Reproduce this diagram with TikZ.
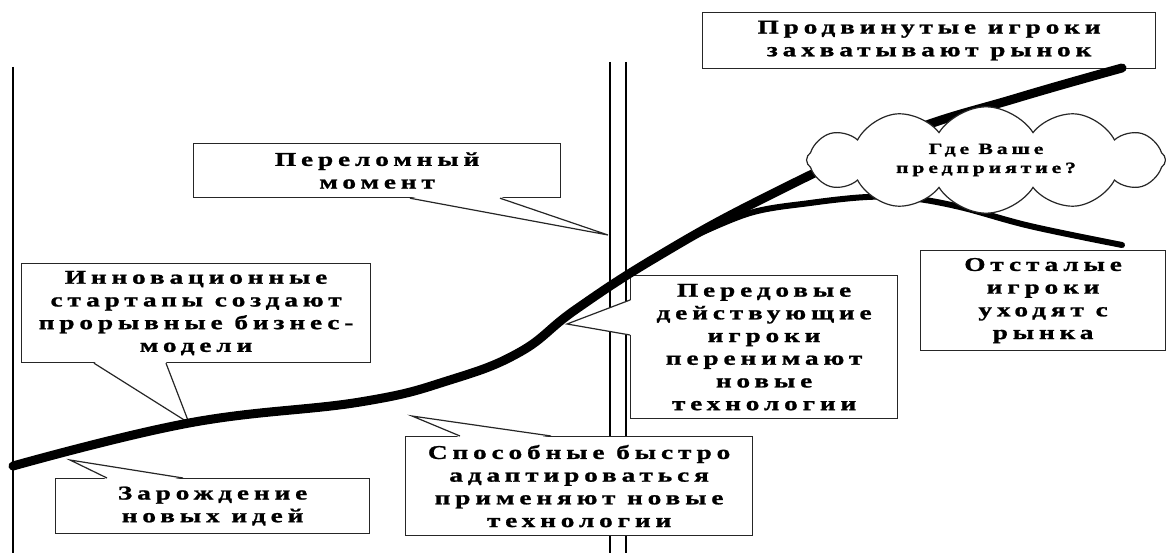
\documentclass[tikz,border=0pt]{standalone}
\usepackage{fontspec}
\newfontfamily\zhirnyj{Liberation Serif Bold}[FakeStretch=1.4, LetterSpace=25, FakeBold=1.2]
\usepackage{tikz}
\usetikzlibrary{shapes.symbols,calc}

\begin{document}
\begin{tikzpicture}[
  x=1pt, y=-1pt,
  ramka/.style={rectangle, draw=black!85, line width=1.2pt, fill=white, anchor=north west, align=center, inner sep=2pt, font=\zhirnyj\fontsize{19.5}{22.7}\selectfont},
  ukaz/.style={draw=black!85, line width=1.2pt},
  linia/.style={line width=1.6pt},
  kriv/.style={line width=9pt, line cap=round},
  kriv2/.style={line width=6pt, line cap=round},
  oblako/.style={cloud, cloud puffs=12, cloud puff arc=115, aspect=3.5, draw=black!85, line width=1.2pt, fill=white, align=center, inner sep=0pt, font=\zhirnyj\fontsize{15.5}{19}\selectfont}
]
  \useasboundingbox (0,0) rectangle (1166,553);

  % vertikalnye linii
  \draw[linia] (13,67) -- (13,553);
  \draw[linia] (610,62) -- (610,553);
  \draw[linia] (626,62) -- (626,553);

  % bloki
  \node[ramka, minimum width=367pt, minimum height=54pt] (perelom) at (193,143) {Переломный\\момент};
  \node[ramka, minimum width=349pt, minimum height=99pt] (innov) at (21,263) {Инновационные\\стартапы создают\\прорывные бизнес-\\модели};
  \node[ramka, minimum width=314pt, minimum height=55pt] (zarozh) at (55,478) {Зарождение\\новых идей};
  \node[ramka, minimum width=347pt, minimum height=99pt] (sposob) at (405,436) {Способные быстро\\адаптироваться\\применяют новые\\технологии};
  \node[ramka, minimum width=267pt, minimum height=143pt] (peredov) at (630,275) {Передовые\\действующие\\игроки\\перенимают\\новые\\технологии};
  \node[ramka, minimum width=245pt, minimum height=100pt] (otstal) at (920,250) {Отсталые\\игроки\\уходят с\\рынка};
  \node[ramka, minimum width=453pt, minimum height=56pt] (prodv) at (702,12) {Продвинутые игроки\\захватывают рынок};

  % ukazateli
  \coordinate (t1) at (608,235);
  \coordinate (t2) at (189,423);
  \coordinate (t3) at (70,460);
  \coordinate (t4) at (412,416);
  \coordinate (t5) at (567,324);
  \fill[white] ([xshift=217pt,yshift=1.5pt]perelom.south west) -- (t1) -- ([xshift=307pt,yshift=1.5pt]perelom.south west) -- cycle;
  \draw[ukaz] ([xshift=217pt]perelom.south west) -- (t1) -- ([xshift=307pt]perelom.south west);
  \fill[white] ([xshift=73pt,yshift=1.5pt]innov.south west) -- (t2) -- ([xshift=145pt,yshift=1.5pt]innov.south west) -- cycle;
  \draw[ukaz] ([xshift=73pt]innov.south west) -- (t2) -- ([xshift=145pt]innov.south west);
  \fill[white] ([xshift=52pt,yshift=-1.5pt]zarozh.north west) -- (t3) -- ([xshift=128pt,yshift=-1.5pt]zarozh.north west) -- cycle;
  \draw[ukaz] ([xshift=52pt]zarozh.north west) -- (t3) -- ([xshift=128pt]zarozh.north west);
  \fill[white] ([xshift=55pt,yshift=-1.5pt]sposob.north west) -- (t4) -- ([xshift=146pt,yshift=-1.5pt]sposob.north west) -- cycle;
  \draw[ukaz] ([xshift=55pt]sposob.north west) -- (t4) -- ([xshift=146pt]sposob.north west);
  \fill[white] ([xshift=1.5pt,yshift=-25pt]peredov.north west) -- (t5) -- ([xshift=1.5pt,yshift=-60pt]peredov.north west) -- cycle;
  \draw[ukaz] ([yshift=-25pt]peredov.north west) -- (t5) -- ([yshift=-60pt]peredov.north west);

  % krivye
  \draw[kriv2] plot[smooth, tension=0.6] coordinates {(690,238) (750,213) (810,203) (867,197) (910,198) (960,207) (1030,226) (1122,245)};
  \draw[kriv] plot[smooth, tension=0.7] coordinates {(13,466) (189,423) (360,402) (450,380) (520,352) (575,310) (655,258) (760,200) (900,135) (1017,98) (1122,68)};

  % oblako
  \node[oblako, minimum width=359pt, minimum height=100pt] (gde) at (986,160) {Где Ваше\\предприятие?};
\end{tikzpicture}
\end{document}
